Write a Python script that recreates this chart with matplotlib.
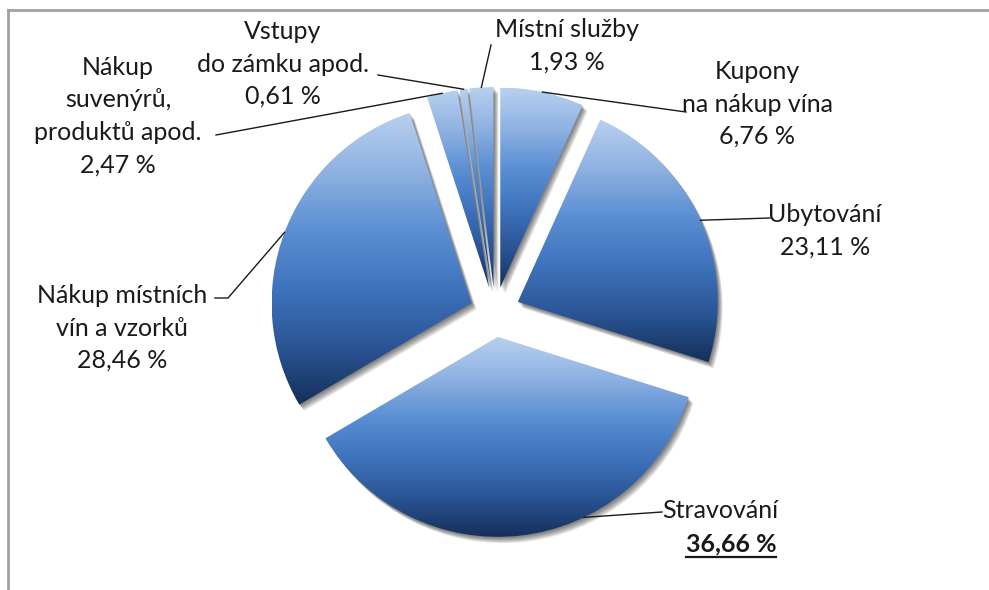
import numpy as np
import matplotlib
matplotlib.use("Agg")
import matplotlib.pyplot as plt
from matplotlib.patches import PathPatch
from matplotlib.transforms import Affine2D
from matplotlib.colors import LinearSegmentedColormap
from matplotlib.lines import Line2D

# ---- data (clockwise from 12 o'clock) ----
categories = ["Kupony\nna nákup vína", "Ubytování", "Stravování",
              "Nákup místních\nvín a vzorků", "Nákup\nsuvenýrů,\nproduktů apod.",
              "Vstupy\ndo zámku apod.", "Místní služby"]
shares = [6.76, 23.11, 36.66, 28.46, 2.47, 0.61, 1.93]

# ---- layout / style ----
W, H = 989, 590
FONT = "Lato"
FS = 18
label_pos = [(757, 104), (825, 231), (724, 527), (122, 328), (118, 116), (283, 64), (567, 46)]
line_end = [(686, 112), (770, 218), (662, 512), (228, 298), (216, 135), (378, 75), (491, 45)]
attach_angle_offset = [0, 0, 19, 0, 0, 0, 0]

fig = plt.figure(figsize=(W / 100, H / 100), dpi=100)
ax = fig.add_axes([0, 0, 1, 1])
cx, cy = 495, H - 312
R = 200
EXPL = 25

wedges, _ = ax.pie(shares, startangle=90, counterclock=False, center=(cx, cy),
                   radius=R, explode=[EXPL] * len(shares), frame=True,
                   wedgeprops=dict(facecolor="none", edgecolor="none"))
ax.set_xlim(0, W)
ax.set_ylim(0, H)
ax.set_aspect("equal")
ax.axis("off")

cmap = LinearSegmentedColormap.from_list(
    "grad", ["#b8d0ef", "#8fb2e2", "#5b8fd3", "#3f73bd", "#2a5596", "#15305a"])
grad = np.linspace(0, 1, 256).reshape(-1, 1)

for w in wedges:
    path = w.get_path()
    # soft shadow (down-right)
    for k in range(1, 8):
        sp = path.transformed(Affine2D().translate(k * 0.7, -k * 0.9))
        ax.add_patch(PathPatch(sp, facecolor="black", edgecolor="none",
                               alpha=0.09, zorder=1))
    ext = path.get_extents()
    im = ax.imshow(grad, cmap=cmap, extent=(ext.x0, ext.x1, ext.y0, ext.y1),
                   origin="upper", aspect="auto", zorder=2, interpolation="bilinear")
    clip = PathPatch(path, transform=ax.transData, facecolor="none", edgecolor="none")
    ax.add_patch(clip)
    im.set_clip_path(clip)

ax.set_xlim(0, W)
ax.set_ylim(0, H)
ax.set_aspect("equal")

# ---- labels and leader lines ----
total = sum(shares)
start = 90.0
bold_text = None
for i, (cat, v) in enumerate(zip(categories, shares)):
    frac = v / total
    mid = start - 360 * frac / 2
    start -= 360 * frac
    mrad = np.deg2rad(mid)
    ox, oy = cx + EXPL * np.cos(mrad), cy + EXPL * np.sin(mrad)
    arad = np.deg2rad(mid + attach_angle_offset[i])
    px, py = ox + R * np.cos(arad), oy + R * np.sin(arad)
    ex, ey = line_end[i]
    ey = H - ey
    xs, ys = [px, ex], [py, ey]
    if i == 3:
        xs.append(ex - 13)
        ys.append(ey)
    ax.add_line(Line2D(xs, ys, color="#1a1a1a", lw=1.0, zorder=3))

    pct = f"{v:.2f}".replace(".", ",") + " %"
    lx, ly = label_pos[i]
    if i == 2:
        ax.text(lx - 4, H - ly + 16, cat, ha="center", va="center", fontsize=FS,
                family=FONT, color="#1a1a1a")
        bold_text = ax.text(lx + 7, H - ly - 17, pct, ha="center", va="center",
                            fontsize=FS, family=FONT, fontweight="bold", color="#1a1a1a")
    else:
        ax.text(lx, H - ly, cat + "\n" + pct, ha="center", va="center",
                multialignment="center", fontsize=FS, family=FONT,
                color="#1a1a1a", linespacing=1.5)

# underline of the highlighted value
fig.canvas.draw()
bb = bold_text.get_window_extent()
fig.add_artist(Line2D([bb.x0 / W, bb.x1 / W], [(bb.y0 - 1) / H, (bb.y0 - 1) / H],
                      transform=fig.transFigure, color="#1a1a1a", lw=1.6))

# chart frame (only top/left visible in the reference)
fig.add_artist(Line2D([8 / W, 1], [1 - 10 / H, 1 - 10 / H], transform=fig.transFigure,
                      color="#a0a0a0", lw=2))
fig.add_artist(Line2D([8 / W, 8 / W], [0, 1 - 10 / H], transform=fig.transFigure,
                      color="#a0a0a0", lw=2))

fig.savefig("out.png", dpi=100, facecolor="white")
